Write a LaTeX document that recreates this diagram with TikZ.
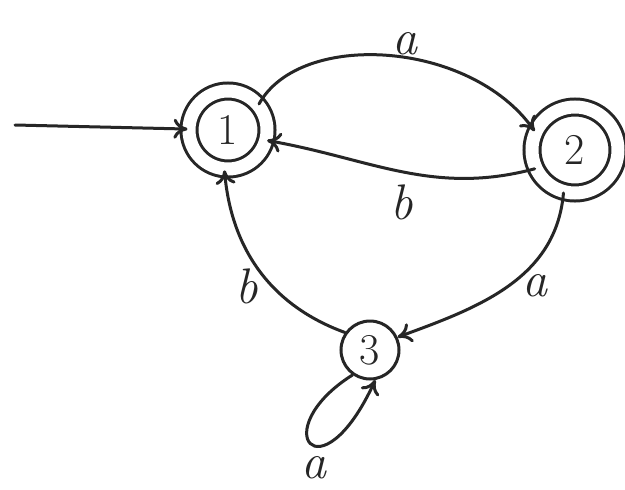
\documentclass[tikz,border=0pt]{standalone}
\usetikzlibrary{arrows.meta}
\begin{document}
\begin{tikzpicture}[x=1pt,y=-1pt,
  ln/.style={line width=3pt,line cap=round,line join=round,black!85},
  arr/.style={ln,-{To[length=14pt,width=20pt,line width=3pt]}},
  st/.style={circle,draw,line width=3pt,black!85,inner sep=0pt,font=\fontsize{44}{44}\selectfont},
  lab/.style={font=\fontsize{50}{50}\selectfont\itshape,black!85}]
\useasboundingbox (0,0) rectangle (625,490);
\fill[white] (0,0) rectangle (625,490);
\node[st,minimum size=78pt,double,double distance=13pt] (n1) at (228,130) {1};
\node[st,minimum size=86pt,double,double distance=13pt] (n2) at (575,150) {2};
\node[st,minimum size=58pt] (n3) at (370,350) {3};
\coordinate (s) at (15,125);
\draw[arr] (s) -- (n1);
\draw[arr] (n1.40) .. controls (300,30) and (470,40) .. node[lab,above=-2pt,pos=0.55] {a} (n2.155);
\draw[arr] (n2.205) to[out=195,in=-10] node[lab,below=8pt] {b} (n1.-15);
\draw[arr] (n2.255) to[out=-95,in=20] node[lab,right=10pt] {a} (n3.25);
\draw[arr] (n3.145) to[out=160,in=-85] node[lab,left=10pt,pos=0.4] {b} (n1.-95);
\draw[arr] (n3.235) .. controls (265,430) and (320,500) .. node[lab,below=6pt,pos=0.55] {a} (n3.-80);
\end{tikzpicture}
\end{document}
